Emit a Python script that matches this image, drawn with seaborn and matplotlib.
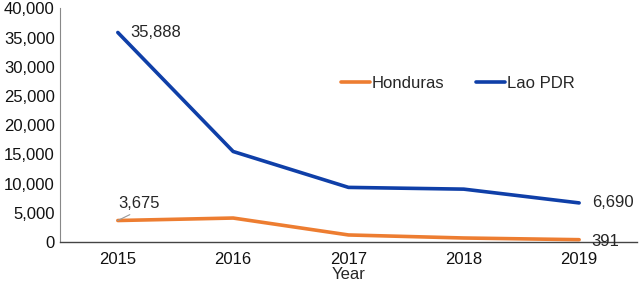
import pandas as pd
import seaborn as sns
import matplotlib.pyplot as plt

years = ["2015", "2016", "2017", "2018", "2019"]
honduras = [3675, 4100, 1200, 680, 391]
lao = [35888, 15500, 9350, 9050, 6690]

df = pd.DataFrame({
    "Year": years * 2,
    "Value": honduras + lao,
    "Country": ["Honduras"] * 5 + ["Lao PDR"] * 5,
})

sns.set_style("white")
plt.rcParams["font.family"] = ["Liberation Sans", "DejaVu Sans"]
fs = 12

fig, ax = plt.subplots(figsize=(6.4, 2.83), dpi=100)
sns.lineplot(data=df, x="Year", y="Value", hue="Country", sort=False,
             palette={"Honduras": "#ED7D31", "Lao PDR": "#0F3FA8"},
             linewidth=2.6, ax=ax)

ax.set_xlim(-0.5, 4.5)
ax.set_ylim(0, 40000)
ax.set_yticks(range(0, 40001, 5000))
ax.set_yticklabels([f"{v:,}" for v in range(0, 40001, 5000)])
ax.tick_params(axis="both", labelsize=fs, length=0, colors="#111111")
ax.tick_params(axis="x", pad=7)
ax.tick_params(axis="y", pad=4)
ax.set_xlabel("Year", fontsize=fs, labelpad=0)
ax.set_ylabel("")
for s in ["top", "right"]:
    ax.spines[s].set_visible(False)
ax.spines["left"].set_color("#888888")
ax.spines["bottom"].set_color("#444444")
ax.spines["bottom"].set_linewidth(1.0)

ax.annotate(f"{lao[0]:,}", (0, lao[0]), xytext=(9, 0), textcoords="offset points",
            fontsize=fs, va="center")
ax.annotate(f"{lao[-1]:,}", (4, lao[-1]), xytext=(9, 0), textcoords="offset points",
            fontsize=fs, va="center")
ax.annotate(f"{honduras[-1]:,}", (4, honduras[-1]), xytext=(9, -1), textcoords="offset points",
            fontsize=fs, va="center")
ax.annotate(f"{honduras[0]:,}", (0, honduras[0]), xytext=(0, 12), textcoords="offset points",
            fontsize=fs, va="center",
            arrowprops=dict(arrowstyle="-", color="#999999", lw=0.8, shrinkA=0, shrinkB=0,
                            relpos=(0.45, 0)))

ax.legend(title=None, ncol=2, frameon=False, fontsize=fs, loc="center",
          bbox_to_anchor=(0.69, 0.68), handlelength=1.7, handletextpad=0.15,
          columnspacing=1.9)

plt.subplots_adjust(left=0.094, right=0.995, top=0.97, bottom=0.145)
plt.savefig("out.png")
